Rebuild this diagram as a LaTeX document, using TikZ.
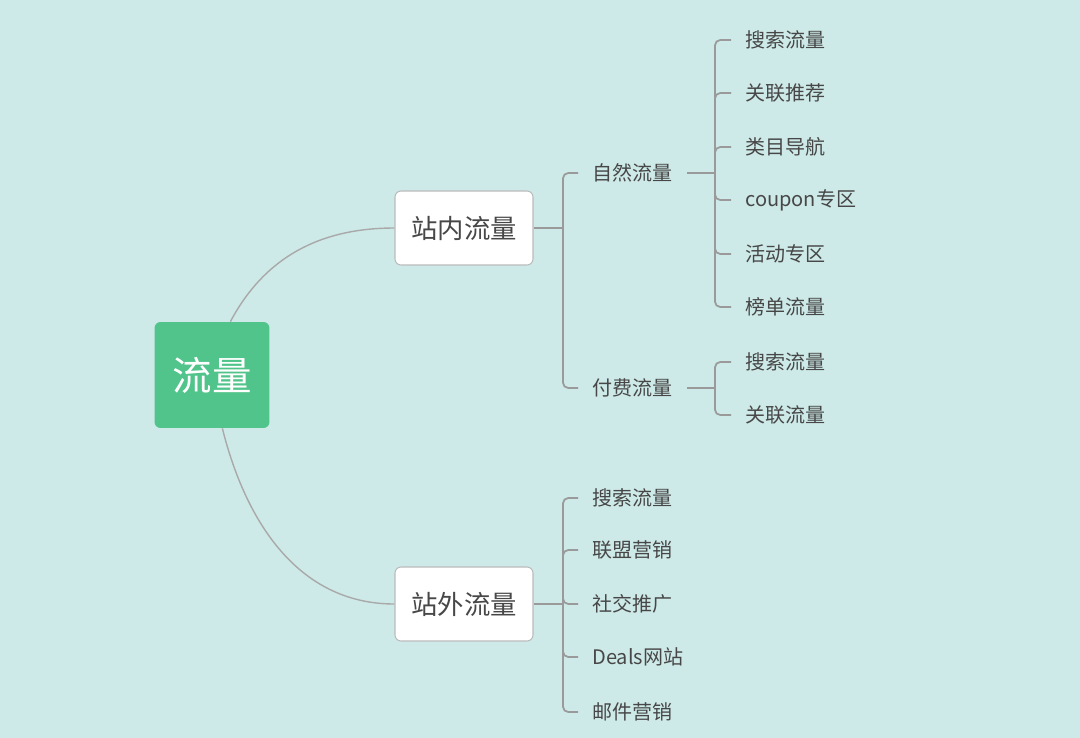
\documentclass[tikz,border=0pt]{standalone}
\usepackage{fontspec}
\setmainfont{Noto Sans CJK SC}
\usetikzlibrary{positioning}
\definecolor{bgmint}{HTML}{CDEAE8}
\definecolor{rootgreen}{HTML}{50C48A}
\definecolor{linegray}{HTML}{9A9A9A}
\definecolor{textgray}{HTML}{474747}
\definecolor{boxedge}{HTML}{BBBBBB}
\tikzset{
  rootbox/.style={fill=rootgreen, rounded corners=0.12cm, minimum width=2.3cm,
    minimum height=2.12cm, text=white, font=\fontsize{22.5}{27}\selectfont},
  subbox/.style={fill=white, draw=boxedge, line width=0.6pt, rounded corners=0.12cm,
    minimum width=2.76cm, minimum height=1.48cm, text=textgray,
    font=\fontsize{15}{18}\selectfont},
  leaf/.style={anchor=west, inner xsep=0.28cm, inner ysep=0pt, text=textgray,
    font=\fontsize{11.4}{13.7}\selectfont},
  curvelink/.style={draw=linegray!85, line width=0.8pt},
  branch/.style={draw=linegray, line width=1pt, rounded corners=3pt},
}

\begin{document}
\begin{tikzpicture}[x=0.02cm, y=-0.02cm]
      \fill[bgmint] (0, 0) rectangle (1080, 738);
      \useasboundingbox (0, 0) rectangle (1080, 738);

      % main nodes
      \node (root) at (212, 375) [rootbox] {流量};
      \node (inner) at (464, 228) [subbox] {站内流量};
      \node (outer) at (464, 604) [subbox] {站外流量};

      % second level
      \node (natural) at (578, 173) [leaf] {自然流量};
      \node (paid) at (578, 388) [leaf] {付费流量};

      % leaves
      \node (n1) at (731, 40) [leaf] {搜索流量};
      \node (n2) at (731, 93) [leaf] {关联推荐};
      \node (n3) at (731, 147) [leaf] {类目导航};
      \node (n4) at (731, 200) [leaf] {coupon专区};
      \node (n5) at (731, 254) [leaf] {活动专区};
      \node (n6) at (731, 307) [leaf] {榜单流量};
      \node (p1) at (731, 362) [leaf] {搜索流量};
      \node (p2) at (731, 415) [leaf] {关联流量};
      \node (o1) at (578, 498) [leaf] {搜索流量};
      \node (o2) at (578, 550) [leaf] {联盟营销};
      \node (o3) at (578, 604) [leaf] {社交推广};
      \node (o4) at (578, 657) [leaf] {Deals网站};
      \node (o5) at (578, 712) [leaf] {邮件营销};

      % forks
      \coordinate (innerfork) at (563, 228);
      \coordinate (natfork) at (715, 173);
      \coordinate (paidfork) at (715, 388);
      \coordinate (outerfork) at (563, 604);

      \draw[curvelink] (root.71) to[out=62, in=180] (inner.west);
      \draw[curvelink] (root.-79) to[out=-76, in=180] (outer.west);

      \draw[branch] (inner.east) -- (innerfork);
      \foreach \c in {natural, paid}
        \draw[branch] (innerfork) |- (\c.west);

      \draw[branch] (natural.east) -- (natfork);
      \foreach \c in {n1, n2, n3, n4, n5, n6}
        \draw[branch] (natfork) |- (\c.west);

      \draw[branch] (paid.east) -- (paidfork);
      \foreach \c in {p1, p2}
        \draw[branch] (paidfork) |- (\c.west);

      \draw[branch] (outer.east) -- (outerfork);
      \foreach \c in {o1, o2, o3, o4, o5}
        \draw[branch] (outerfork) |- (\c.west);
    \end{tikzpicture}
\end{document}
